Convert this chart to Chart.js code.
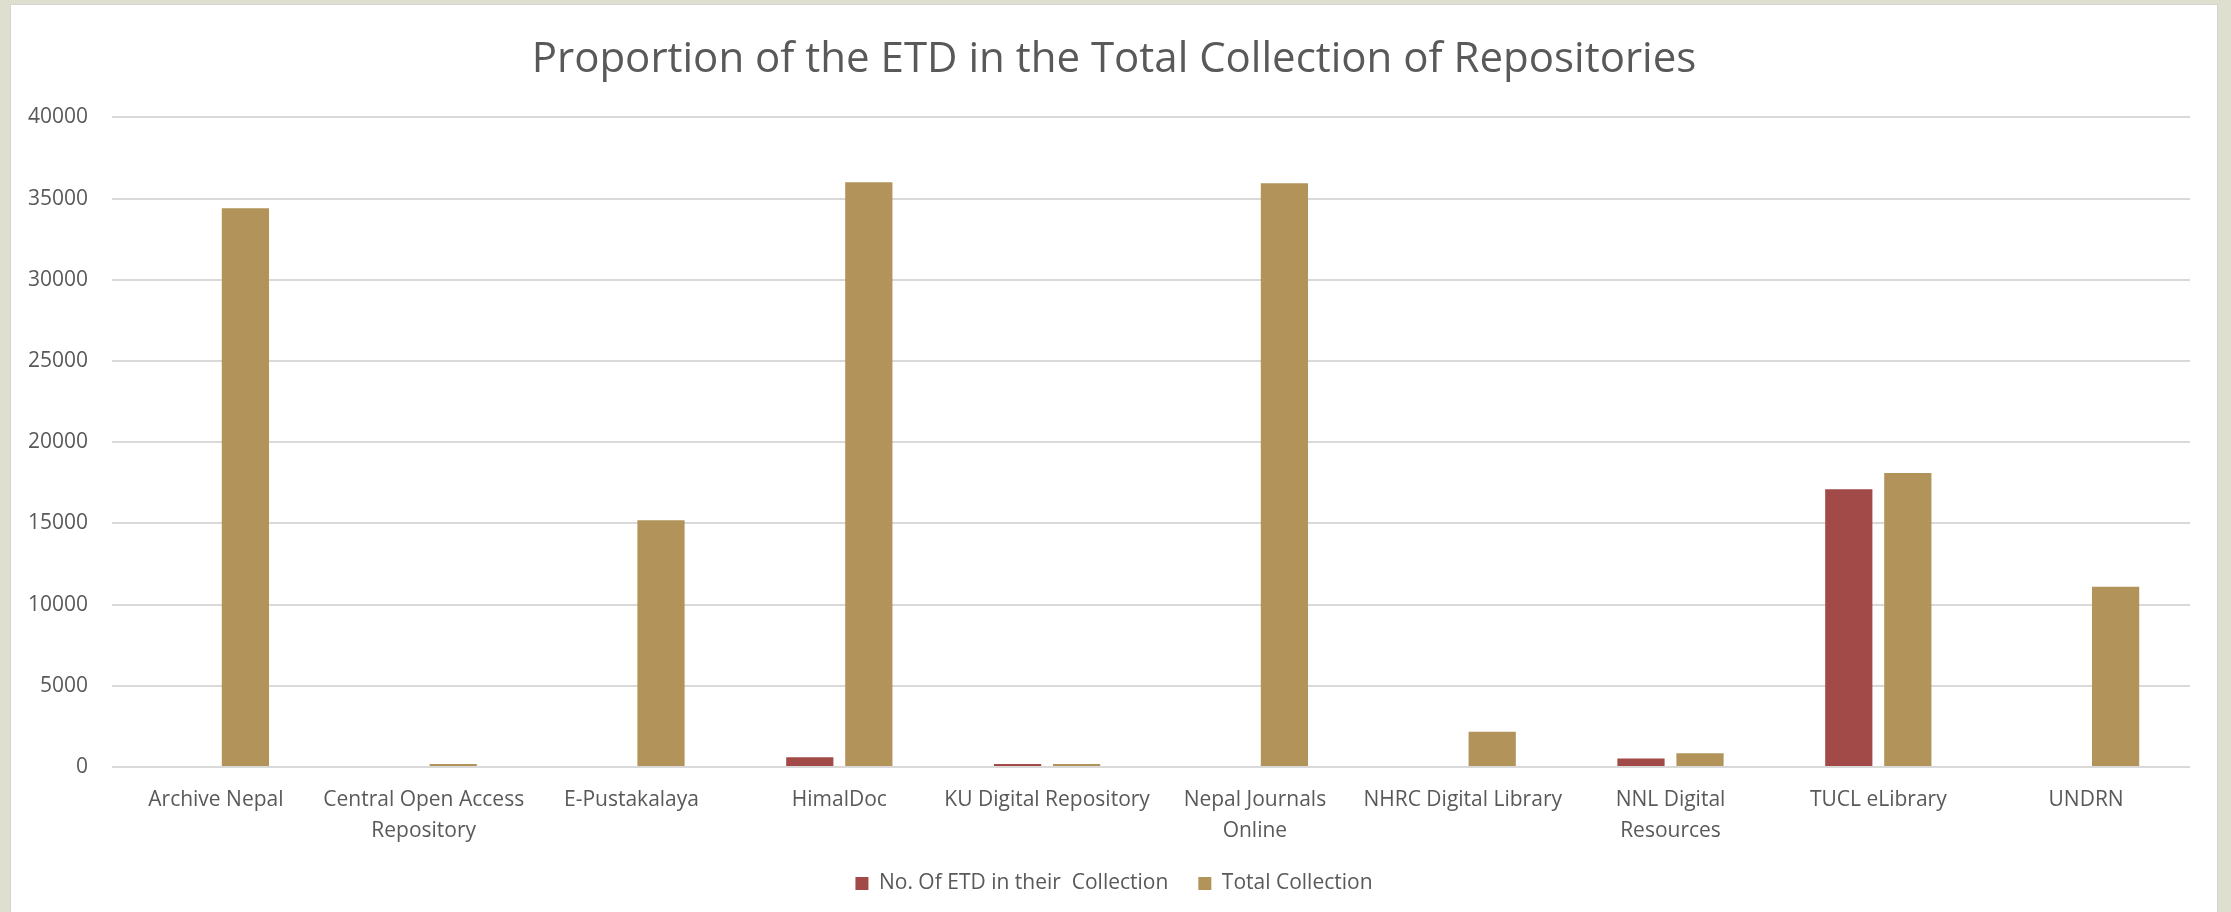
<!DOCTYPE html>
<html>
<head>
<meta charset="utf-8">
<script src="https://cdn.jsdelivr.net/npm/chart.js@4"></script>
<style>
  html, body { margin: 0; padding: 0; }
  body { width: 2231px; height: 912px; background: #dfdfcf; overflow: hidden; }
  #box { position: absolute; left: 10px; top: 4px; width: 2208px; height: 908px;
         background: #fff; border-left: 1px solid #d4d4d4; border-top: 1px solid #d4d4d4; border-right: 1px solid #d4d4d4; box-sizing: border-box; }
  canvas { display: block; }
</style>
</head>
<body>
<div id="box"><canvas id="chart1"></canvas></div>
<script>
var repositories = [
  "Archive Nepal",
  ["Central Open Access", "Repository"],
  "E-Pustakalaya",
  "HimalDoc",
  "KU Digital Repository",
  ["Nepal Journals", "Online"],
  "NHRC Digital Library",
  ["NNL Digital", "Resources"],
  "TUCL eLibrary",
  "UNDRN"
];
var etdCount = [0, 0, 0, 600, 185, 0, 0, 530, 17100, 0];
var totalCollection = [34400, 185, 15200, 36000, 185, 35950, 2170, 840, 18100, 11100];
var yTicks = [0, 5000, 10000, 15000, 20000, 25000, 30000, 35000, 40000];

var textColor = "#595959";
var font = "'Open Sans', sans-serif";

var ctx = document.getElementById('chart1').getContext("2d");

var myChart = new Chart(ctx, {
  type: 'bar',
  data: {
    labels: repositories,
    datasets: [{
        label: "No. Of ETD in their  Collection",
        backgroundColor: "#a14a48",
        data: etdCount
      }, {
        label: "Total Collection",
        backgroundColor: "#b2935a",
        data: totalCollection
      }
    ]
  },
  options: {
    responsive: true,
    maintainAspectRatio: false,
    animation: false,
    devicePixelRatio: 1,
    categoryPercentage: 0.568,
    barPercentage: 0.8,
    layout: {
      padding: { left: 0, right: 0, top: 0, bottom: 8 }
    },
    scales: {
      x: {
        grid: { display: false },
        border: { display: false },
        ticks: {
          color: textColor,
          font: { family: font, size: 21, lineHeight: 1.45 },
          maxRotation: 0,
          autoSkip: false,
          padding: 10
        },
        afterFit: function (scale) { scale.height = 76; }
      },
      y: {
        min: 0,
        max: 40000,
        afterBuildTicks: function (scale) {
          scale.ticks = yTicks.map(function (v) { return { value: v }; });
        },
        grid: { color: "#d9d9d9", lineWidth: 2, drawTicks: false },
        border: { display: false },
        ticks: {
          color: textColor,
          font: { family: font, size: 21 },
          padding: 24,
          callback: function (value) { return String(value); }
        },
        afterFit: function (scale) { scale.width = 101; }
      },
      // empty right-hand axis: keeps a margin on the right only for the plot
      spacer: {
        type: 'linear',
        position: 'right',
        grid: { display: false },
        border: { display: false },
        ticks: { display: false },
        afterFit: function (scale) { scale.width = 27; }
      }
    },
    plugins: {
      title: {
        display: true,
        text: "Proportion of the ETD in the Total Collection of Repositories",
        color: textColor,
        font: { family: font, size: 42, weight: 'normal' },
        padding: { top: 30, bottom: 32 }
      },
      legend: {
        display: true,
        position: 'bottom',
        labels: {
          color: textColor,
          font: { family: font, size: 21 },
          boxWidth: 13,
          boxHeight: 13,
          padding: 30
        }
      },
      tooltip: { enabled: false }
    }
  }
});
</script>
</body>
</html>
